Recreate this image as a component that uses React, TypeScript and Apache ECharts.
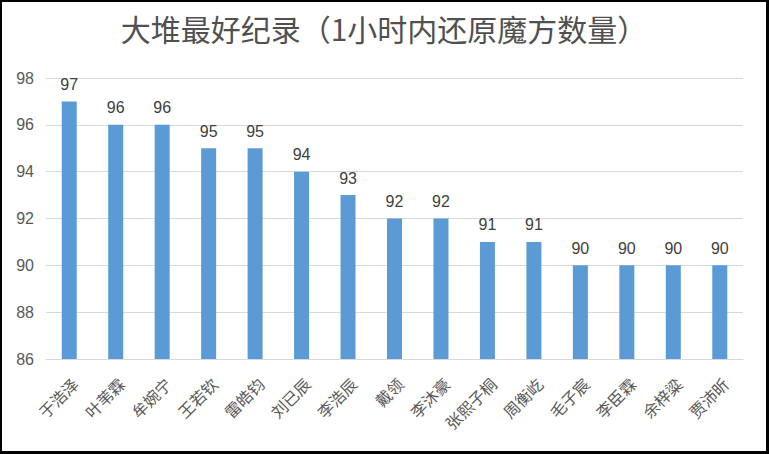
import React, { useEffect, useRef } from "react";
import * as echarts from "echarts";

const titleText = "大堆最好纪录（1小时内还原魔方数量）";
const names = ["于浩泽", "叶苇霖", "牟婉宁", "王若钦", "雷皓钧", "刘已辰", "李浩辰", "戴领", "李沐豪", "张熙子桐", "周衡屹", "毛子宸", "李臣霖", "余梓粱", "贾沛昕"];
const counts = [97, 96, 96, 95, 95, 94, 93, 92, 92, 91, 91, 90, 90, 90, 90];
const yMin = 86;
const yMax = 98;
const yStep = 2;

export default function App() {
  const ref = useRef<HTMLDivElement>(null);
  useEffect(() => {
    const chart = echarts.init(ref.current!, null, { renderer: "svg" });
    chart.setOption({
      animation: false,
      backgroundColor: "#ffffff",
      title: {
        text: titleText,
        left: "center",
        top: 6,
        textStyle: {
          fontFamily: "Noto Sans CJK SC",
          fontSize: 30,
          fontWeight: "normal",
          color: "#505050",
        },
      },
      grid: { left: 44, right: 23, top: 76, bottom: 92 },
      xAxis: {
        type: "category",
        data: names,
        axisLine: { show: true, lineStyle: { color: "#d9d9d9" } },
        axisTick: { show: false },
        axisLabel: {
          rotate: 45,
          interval: 0,
          margin: 16,
          verticalAlign: "top",
          fontFamily: "Noto Sans CJK SC",
          fontSize: 16,
          color: "#595959",
        },
      },
      yAxis: {
        type: "value",
        min: yMin,
        max: yMax,
        interval: yStep,
        axisLine: { show: false },
        axisTick: { show: false },
        splitLine: { lineStyle: { color: "#d9d9d9", width: 1 } },
        axisLabel: {
          margin: 12,
          fontFamily: "Liberation Sans",
          fontSize: 16,
          color: "#595959",
        },
      },
      series: [
        {
          type: "bar",
          data: counts,
          barWidth: 15,
          itemStyle: { color: "#5b9bd5" },
          label: {
            show: true,
            position: "top",
            distance: 9,
            fontFamily: "Liberation Sans",
            fontSize: 16,
            color: "#404040",
          },
        },
      ],
    });
    return () => chart.dispose();
  }, []);
  return (
    <div style={{ position: "absolute", left: 0, top: 0, width: 769, height: 454, background: "#000" }}>
      <div ref={ref} style={{ position: "absolute", left: 2, top: 2, width: 764, height: 449, background: "#fff" }} />
    </div>
  );
}
